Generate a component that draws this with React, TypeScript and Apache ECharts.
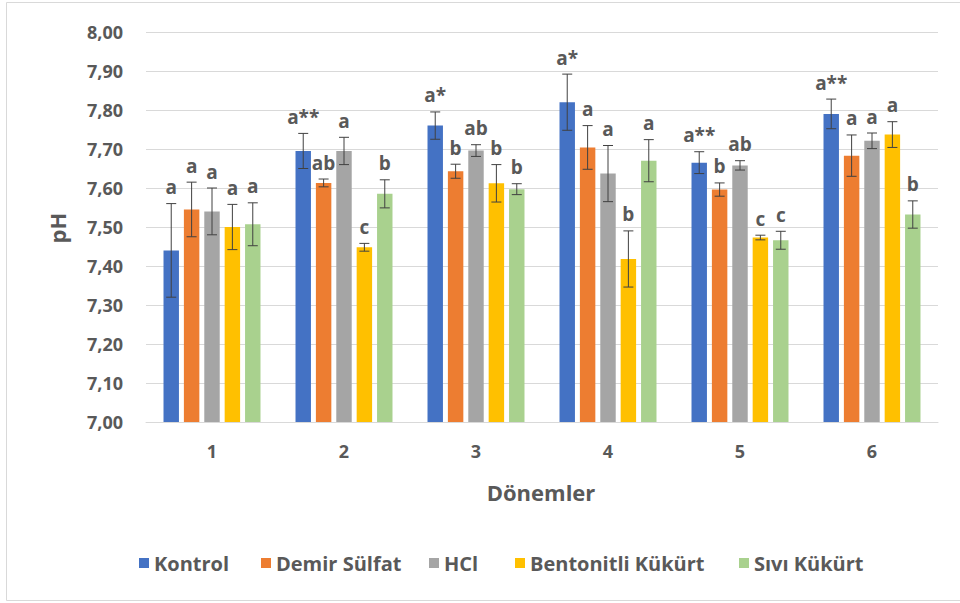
import React, { useEffect, useRef } from "react";
import * as echarts from "echarts";

const categories = ["1", "2", "3", "4", "5", "6"];
const seriesNames = ["Kontrol", "Demir Sülfat", "HCl", "Bentonitli Kükürt", "Sıvı Kükürt"];
const colors = ["#4472C4", "#ED7D31", "#A5A5A5", "#FFC000", "#A9D18E"];

const kontrol = [7.44, 7.695, 7.76, 7.82, 7.665, 7.79];
const kontrolErr = [0.12, 0.045, 0.035, 0.072, 0.028, 0.038];
const demir = [7.545, 7.613, 7.643, 7.704, 7.596, 7.683];
const demirErr = [0.07, 0.01, 0.018, 0.056, 0.017, 0.053];
const hcl = [7.54, 7.695, 7.696, 7.637, 7.658, 7.721];
const hclErr = [0.06, 0.035, 0.015, 0.072, 0.012, 0.02];
const bent = [7.5, 7.448, 7.612, 7.418, 7.473, 7.737];
const bentErr = [0.058, 0.01, 0.048, 0.072, 0.006, 0.033];
const sivi = [7.507, 7.585, 7.597, 7.67, 7.466, 7.532];
const siviErr = [0.055, 0.036, 0.014, 0.054, 0.023, 0.035];

const kontrolLbl = ["a", "a**", "a*", "a*", "a**", "a**"];
const demirLbl = ["a", "ab", "b", "a", "b", "a"];
const hclLbl = ["a", "a", "ab", "a", "ab", "a"];
const bentLbl = ["a", "c", "b", "b", "c", "a"];
const siviLbl = ["a", "b", "b", "a", "c", "b"];

const values = [kontrol, demir, hcl, bent, sivi];
const errors = [kontrolErr, demirErr, hclErr, bentErr, siviErr];
const letters = [kontrolLbl, demirLbl, hclLbl, bentLbl, siviLbl];

const legendLefts = [134, 256, 424, 510, 734];

const FONT = "'Open Sans', 'Noto Sans', sans-serif";
const TXT = "#595959";
const BAR_W = 0.117;
const GAP = 0.32;

export default function App() {
  const ref = useRef<HTMLDivElement>(null);
  useEffect(() => {
    if (!ref.current) return;
    const chart = echarts.init(ref.current, null, { renderer: "svg" });

    const barSeries = seriesNames.map((name, i) => ({
      name,
      type: "bar",
      data: values[i],
      barWidth: (BAR_W * 100).toFixed(1) + "%",
      barGap: GAP * 100 + "%",
      itemStyle: { color: colors[i] },
      z: 2,
    }));

    const errSeries = seriesNames.map((name, i) => ({
      type: "custom",
      name: name + "-err",
      z: 5,
      data: values[i].map((v, k) => [k, v, errors[i][k]]),
      encode: { x: 0, y: 1 },
      renderItem: (params: any, api: any) => {
        const idx = api.value(0);
        const val = api.value(1);
        const err = api.value(2);
        const lbl = letters[i][idx];
        const top = api.coord([idx, val + err]);
        const bot = api.coord([idx, val - err]);
        const band = api.size([1, 0])[0];
        const w = band * BAR_W;
        const g = w * GAP;
        const x = top[0] + (i - 2) * (w + g);
        const cap = 5;
        const ls = { stroke: "#404040", lineWidth: 1 };
        return {
          type: "group",
          children: [
            { type: "line", shape: { x1: x, y1: top[1], x2: x, y2: bot[1] }, style: ls },
            { type: "line", shape: { x1: x - cap, y1: top[1], x2: x + cap, y2: top[1] }, style: ls },
            { type: "line", shape: { x1: x - cap, y1: bot[1], x2: x + cap, y2: bot[1] }, style: ls },
            {
              type: "text",
              x,
              y: top[1] - 7,
              style: {
                text: lbl,
                fill: TXT,
                font: `bold 19px ${FONT}`,
                textAlign: "center",
                textVerticalAlign: "bottom",
                verticalAlign: "bottom",
              },
            },
          ],
        };
      },
    }));

    const legends = seriesNames.map((name, i) => ({
      data: [name],
      left: legendLefts[i],
      top: 548,
      icon: "rect",
      itemWidth: 10,
      itemHeight: 10,
      itemGap: 0,
      selectedMode: false,
      textStyle: { color: TXT, fontFamily: FONT, fontWeight: "bold", fontSize: 20 },
    }));

    chart.setOption({
      animation: false,
      backgroundColor: "#ffffff",
      grid: { left: 146, right: 22, top: 32, bottom: 181 },
      legend: legends,
      xAxis: {
        type: "category",
        data: categories,
        axisLine: { show: true, lineStyle: { color: "#d9d9d9", width: 1 } },
        axisTick: { show: false },
        axisLabel: { color: TXT, fontFamily: FONT, fontWeight: "bold", fontSize: 18, margin: 20 },
      },
      yAxis: {
        type: "value",
        min: 7,
        max: 8,
        interval: 0.1,
        axisLine: { show: false },
        axisTick: { show: false },
        splitLine: { lineStyle: { color: "#d9d9d9", width: 1 } },
        axisLabel: {
          color: TXT,
          fontFamily: FONT,
          fontWeight: "bold",
          fontSize: 18,
          margin: 23,
          formatter: (v: number) => v.toFixed(2).replace(".", ","),
        },
      },
      graphic: [
        {
          type: "rect",
          shape: { x: 6.5, y: 2.5, width: 1000, height: 598 },
          style: { fill: "none", stroke: "#d9d9d9", lineWidth: 1 },
          silent: true,
        },
        {
          type: "text",
          x: 541,
          y: 492,
          style: {
            text: "Dönemler",
            fill: TXT,
            font: `bold 22px ${FONT}`,
            textAlign: "center",
            textVerticalAlign: "middle",
            verticalAlign: "middle",
          },
        },
        {
          type: "text",
          x: 57,
          y: 228,
          rotation: Math.PI / 2,
          style: {
            text: "pH",
            fill: TXT,
            font: `bold 22px ${FONT}`,
            textAlign: "center",
            textVerticalAlign: "middle",
            verticalAlign: "middle",
          },
        },
      ],
      series: [...barSeries, ...errSeries],
    });
    return () => chart.dispose();
  }, []);
  return (
    <div
      ref={ref}
      style={{ position: "absolute", left: 0, top: 0, width: 960, height: 603 }}
    />
  );
}
